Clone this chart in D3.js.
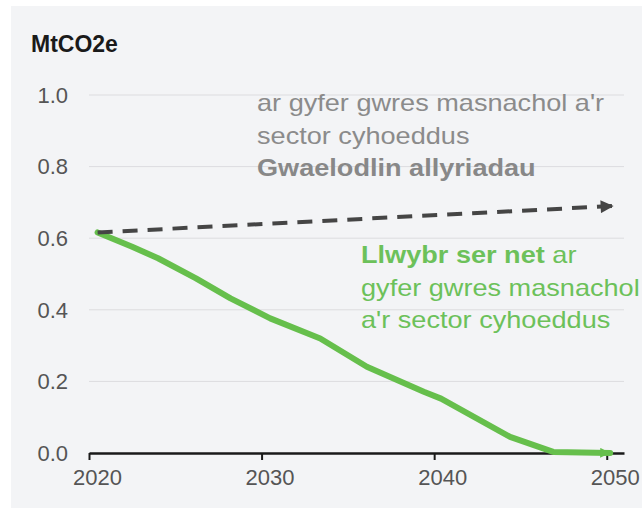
<!DOCTYPE html>
<html>
<head>
<meta charset="utf-8">
<script src="https://cdn.jsdelivr.net/npm/d3@7"></script>
<style>
  body { margin: 0; background: #fff; }
  text { font-family: "Liberation Sans", Arial, Helvetica, sans-serif; }
</style>
</head>
<body>
<script>
// net zero pathway (green)
var pathYears = [2020.5, 2022.5, 2024, 2026.2, 2028.2, 2030.5, 2033.4, 2036.1, 2039.4, 2040.4, 2044.4, 2046.9, 2050.2];
var pathValues = [0.616, 0.576, 0.544, 0.488, 0.432, 0.376, 0.320, 0.241, 0.171, 0.152, 0.045, 0.003, 0.0];

// baseline emissions (dashed arrow)
var baseYears = [2020.5, 2050.4];
var baseValues = [0.616, 0.69];

var xTicks = [2020, 2030, 2040, 2050];
var yTicks = [0, 0.2, 0.4, 0.6, 0.8, 1.0];

var grayLines = ["ar gyfer gwres masnachol a'r", "sector cyhoeddus"];
var grayTitle = "Gwaelodlin allyriadau";
var greenBold = "Llwybr ser net";
var greenLines = [" ar", "gyfer gwres masnachol", "a'r sector cyhoeddus"];

var width = 642,
    height = 509;

var svg = d3.select("body").append("svg")
    .attr("width", width)
    .attr("height", height);

// grey panel
svg.append("rect")
    .attr("x", 11).attr("y", 6)
    .attr("width", width - 11).attr("height", 502)
    .attr("fill", "#f3f4f6");

var x = d3.scaleLinear().domain([2020, 2051]).range([89, 624]);
var y = d3.scaleLinear().domain([0, 1]).range([453, 95]);

// gridlines
svg.append("g")
    .selectAll("line")
    .data(yTicks.filter(function(d) { return d > 0; }))
    .enter().append("line")
    .attr("x1", x(2020)).attr("x2", x(2051))
    .attr("y1", function(d) { return y(d); })
    .attr("y2", function(d) { return y(d); })
    .attr("stroke", "#dcdcdf")
    .attr("stroke-width", 1);

// y labels
svg.append("g")
    .selectAll("text")
    .data(yTicks)
    .enter().append("text")
    .attr("x", 68)
    .attr("y", function(d) { return y(d); })
    .attr("dy", "0.35em")
    .attr("text-anchor", "end")
    .attr("font-size", 22)
    .attr("fill", "#555")
    .text(function(d) { return d3.format(".1f")(d); });

svg.append("text")
    .attr("x", 31).attr("y", 52)
    .attr("font-size", 23)
    .attr("font-weight", "bold")
    .attr("fill", "#1a1a1a")
    .text("MtCO2e");

// x axis
var xAxis = d3.axisBottom(x)
    .tickValues(xTicks)
    .tickSize(7)
    .tickSizeOuter(0)
    .tickFormat(d3.format("d"));

var gx = svg.append("g")
    .attr("transform", "translate(0," + y(0) + ")")
    .call(xAxis);
gx.select(".domain").attr("stroke", "#1a1a1a").attr("stroke-width", 2.5);
gx.selectAll(".tick line").attr("stroke", "#1a1a1a").attr("stroke-width", 2);
gx.selectAll(".tick text")
    .attr("font-family", null)
    .attr("font-size", 22)
    .attr("fill", "#555")
    .attr("dx", 8)
    .attr("y", 12)
    .attr("dy", "0.9em");

// arrow markers
var defs = svg.append("defs");
defs.append("marker")
    .attr("id", "arrowGray")
    .attr("viewBox", "0 0 10 10")
    .attr("refX", 10).attr("refY", 5)
    .attr("markerUnits", "userSpaceOnUse")
    .attr("markerWidth", 17).attr("markerHeight", 13)
    .attr("orient", "auto")
    .append("path")
    .attr("d", "M0,0L10,5L0,10z")
    .attr("fill", "#454545");

defs.append("marker")
    .attr("id", "arrowGreen")
    .attr("viewBox", "0 0 10 10")
    .attr("refX", 10).attr("refY", 5)
    .attr("markerUnits", "userSpaceOnUse")
    .attr("markerWidth", 14).attr("markerHeight", 10)
    .attr("orient", "auto")
    .append("path")
    .attr("d", "M0,0L10,5L0,10z")
    .attr("fill", "#66bf4c");

var line = d3.line()
    .x(function(d) { return x(d[0]); })
    .y(function(d) { return y(d[1]); });

var baseData = baseYears.map(function(d, i) { return [d, baseValues[i]]; });
var pathData = pathYears.map(function(d, i) { return [d, pathValues[i]]; });

svg.append("path")
    .attr("d", line(pathData))
    .attr("fill", "none")
    .attr("stroke", "#66bf4c")
    .attr("stroke-width", 6)
    .attr("stroke-linejoin", "round")
    .attr("stroke-linecap", "round")
    .attr("marker-end", "url(#arrowGreen)");

svg.append("path")
    .attr("d", line(baseData))
    .attr("fill", "none")
    .attr("stroke", "#454545")
    .attr("stroke-width", 4)
    .attr("stroke-dasharray", "15,10")
    .attr("marker-end", "url(#arrowGray)");

// grey annotation
var gray = svg.append("g").attr("transform", "translate(257,0) scale(1.13,1)");
grayLines.forEach(function(t, i) {
    gray.append("text")
        .attr("x", 0).attr("y", 111 + i * 33)
        .attr("font-size", 24)
        .attr("fill", "#8b8b8b")
        .text(t);
});
gray.append("text")
    .attr("x", 0).attr("y", 176.5)
    .attr("font-size", 24)
    .attr("font-weight", "bold")
    .attr("fill", "#888")
    .text(grayTitle);

// green annotation
var green = svg.append("g").attr("transform", "translate(361,0) scale(1.13,1)");
var first = green.append("text")
    .attr("x", 0).attr("y", 263)
    .attr("font-size", 24)
    .attr("fill", "#6cc15a");
first.append("tspan").attr("font-weight", "bold").text(greenBold);
first.append("tspan").text(greenLines[0]);
greenLines.slice(1).forEach(function(t, i) {
    green.append("text")
        .attr("x", 0).attr("y", 296 + i * 32)
        .attr("font-size", 24)
        .attr("fill", "#6cc15a")
        .text(t);
});
</script>
</body>
</html>
